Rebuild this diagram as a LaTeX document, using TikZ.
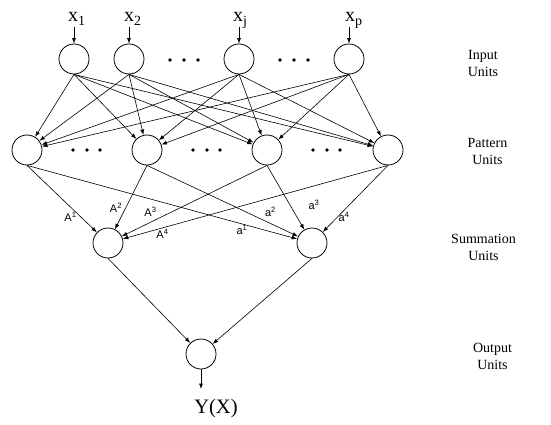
\documentclass[tikz,border=0pt]{standalone}
\usepackage{fontspec}
\setmainfont{Liberation Serif}
\setsansfont{Liberation Sans}
\usetikzlibrary{arrows.meta}

\begin{document}
\begin{tikzpicture}[x=1pt,y=-1pt,>={Latex[length=5.5pt,width=4pt]}]
			\useasboundingbox (0,0) rectangle (551,425);
			\tikzset{unit/.style={draw,circle,minimum size=30pt,inner sep=0pt,line width=0.8pt},
				conn/.style={->,line width=0.6pt},
				xlab/.style={font=\fontsize{20}{22}\selectfont,inner sep=0pt,anchor=base west},
				wlab/.style={font=\sffamily\fontsize{11}{13}\selectfont,inner sep=0pt},
				layerlab/.style={font=\fontsize{14}{17}\selectfont,align=center,inner sep=0pt}}
			%input units
			\node[unit] (in1) at (74,59) {};
			\node[unit] (in2) at (129,59) {};
			\node[unit] (inj) at (239,59) {};
			\node[unit] (inp) at (349,59) {};
			%pattern units
			\node[unit] (pat1) at (27,150) {};
			\node[unit] (pat2) at (147,150) {};
			\node[unit] (pat3) at (267,150) {};
			\node[unit] (pat4) at (388,150) {};
			%summation units
			\node[unit] (sum1) at (108,243) {};
			\node[unit] (sum2) at (312,243) {};
			%output unit
			\node[unit] (out) at (201,354) {};
			%inputs
			\node[xlab] (lx1) at (68,22) {x\textsubscript{1}};
			\node[xlab] (lx2) at (124,22) {x\textsubscript{2}};
			\node[xlab] (lxj) at (233,22) {x\textsubscript{j}};
			\node[xlab] (lxp) at (345,22) {x\textsubscript{p}};
			\coordinate (t1) at (74,27);
			\coordinate (t2) at (129,27);
			\coordinate (tj) at (239,27);
			\coordinate (tp) at (349,27);
			\draw[conn] (t1) -- (in1);
			\draw[conn] (t2) -- (in2);
			\draw[conn] (tj) -- (inj);
			\draw[conn] (tp) -- (inp);
			%input -> pattern
			\draw[conn] (in1.south) -- (pat1);
			\draw[conn] (in1.south) -- (pat2);
			\draw[conn] (in1.south) -- (pat3);
			\draw[conn] (in1.south) -- (pat4);
			\draw[conn] (in2.south) -- (pat1);
			\draw[conn] (in2.south) -- (pat2);
			\draw[conn] (in2.south) -- (pat3);
			\draw[conn] (in2.south) -- (pat4);
			\draw[conn] (inj.south) -- (pat1);
			\draw[conn] (inj.south) -- (pat2);
			\draw[conn] (inj.south) -- (pat3);
			\draw[conn] (inj.south) -- (pat4);
			\draw[conn] (inp.south) -- (pat1);
			\draw[conn] (inp.south) -- (pat2);
			\draw[conn] (inp.south) -- (pat3);
			\draw[conn] (inp.south) -- (pat4);
			%pattern -> summation
			\draw[conn] (pat1.south) -- (sum1);
			\draw[conn] (pat1.south) -- (sum2);
			\draw[conn] (pat2.south) -- (sum1);
			\draw[conn] (pat2.south) -- (sum2);
			\draw[conn] (pat3.south) -- (sum1);
			\draw[conn] (pat3.south) -- (sum2);
			\draw[conn] (pat4.south) -- (sum1);
			\draw[conn] (pat4.south) -- (sum2);
			%summation -> output
			\draw[conn] (sum1.south) -- (out);
			\draw[conn] (sum2.south) -- (out);
			\node[font=\fontsize{20.5}{22}\selectfont,inner sep=0pt,anchor=base] (y) at (216,413) {Y(X)};
			\coordinate (yt) at (201,389);
			\draw[conn] (out.south) -- (yt);
			%weights
			\node[wlab] (w1) at (70.5,217) {A\textsuperscript{1}};
			\node[wlab] (w2) at (116,207.5) {A\textsuperscript{2}};
			\node[wlab] (w3) at (150.5,212) {A\textsuperscript{3}};
			\node[wlab] (w4) at (162.5,234) {A\textsuperscript{4}};
			\node[wlab] (v1) at (242,230) {a\textsuperscript{1}};
			\node[wlab] (v2) at (270.5,212) {a\textsuperscript{2}};
			\node[wlab] (v3) at (314,205) {a\textsuperscript{3}};
			\node[wlab] (v4) at (344,217) {a\textsuperscript{4}};
			%dots
			\fill (170,60) circle (1.9) (184,60) circle (1.9) (198,60) circle (1.9);
			\fill (280,60) circle (1.9) (294,60) circle (1.9) (308,60) circle (1.9);
			\fill (73,150) circle (1.9) (87,150) circle (1.9) (100,150) circle (1.9);
			\fill (193,150) circle (1.9) (207,150) circle (1.9) (220,150) circle (1.9);
			\fill (313,150) circle (1.9) (327,150) circle (1.9) (340,150) circle (1.9);
			%layer names
			\node[layerlab] (linput) at (483,63) {Input\\Units};
			\node[layerlab] (lpattern) at (487.5,151.5) {Pattern\\Units};
			\node[layerlab] (lsum) at (483.5,247) {Summation\\Units};
			\node[layerlab] (lout) at (492.5,356.5) {Output\\Units};
		\end{tikzpicture}
\end{document}
